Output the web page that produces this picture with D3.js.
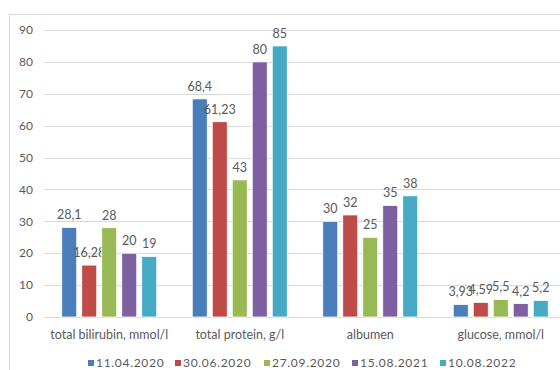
<!DOCTYPE html>
<html>
<head>
<meta charset="utf-8">
<script src="https://cdn.jsdelivr.net/npm/d3@7"></script>
<style>
  html, body { margin: 0; padding: 0; background: #fff; }
  svg { display: block; }
  text { font-family: Lato, "Open Sans", sans-serif; fill: #595959; }
</style>
</head>
<body>
<svg id="chart" width="560" height="370"></svg>
<script>
const categories = ["total bilirubin, mmol/l", "total protein, g/l", "albumen", "glucose, mmol/l"];
const seriesNames = ["11.04.2020", "30.06.2020", "27.09.2020", "15.08.2021", "10.08.2022"];
const seriesColors = ["#4a7ebb", "#be4b48", "#98b954", "#7d60a0", "#46aac5"];
// values per series, in category order
const s1 = [28.1, 68.4, 30, 3.93];
const s2 = [16.28, 61.23, 32, 4.59];
const s3 = [28, 43, 25, 5.5];
const s4 = [20, 80, 35, 4.2];
const s5 = [19, 85, 38, 5.2];
const seriesValues = [s1, s2, s3, s4, s5];
const yTicks = [0, 10, 20, 30, 40, 50, 60, 70, 80, 90];

const svg = d3.select("#chart");
const fmt = v => String(v).replace(".", ",");

// outer chart frame
svg.append("rect").attr("x", 9.5).attr("y", 14.5).attr("width", 600).attr("height", 400)
  .attr("fill", "none").attr("stroke", "#d9d9d9");

const plot = { left: 44, right: 566, top: 30, bottom: 317 };
const y = d3.scaleLinear().domain([0, 90]).range([plot.bottom, plot.top]);
const x0 = d3.scaleBand().domain(categories).range([plot.left, plot.right]).paddingInner(0).paddingOuter(0);
const x1 = d3.scaleBand().domain(seriesNames).range([x0.bandwidth() / 2 - 50, x0.bandwidth() / 2 + 50]).paddingInner(0.25).paddingOuter(0.125);

// gridlines
svg.append("g").selectAll("line").data(yTicks).join("line")
  .attr("x1", plot.left).attr("x2", 560)
  .attr("y1", d => Math.round(y(d)) + 0.5).attr("y2", d => Math.round(y(d)) + 0.5)
  .attr("stroke", "#d9d9d9").attr("stroke-width", 1);

// y tick labels
svg.append("g").selectAll("text").data(yTicks).join("text")
  .attr("x", 33).attr("y", d => y(d)).attr("dy", "0.35em")
  .attr("text-anchor", "end").style("font-size", "12px").text(d => d);

// bars
const groups = svg.append("g").selectAll("g").data(categories).join("g")
  .attr("transform", d => `translate(${x0(d)},0)`);

seriesNames.forEach((name, si) => {
  groups.append("rect")
    .attr("x", (d, ci) => x1(name))
    .attr("width", x1.bandwidth())
    .attr("y", (d, ci) => y(seriesValues[si][ci]))
    .attr("height", (d, ci) => plot.bottom - y(seriesValues[si][ci]))
    .attr("fill", seriesColors[si])
    .attr("stroke", "#fff").attr("stroke-width", 0.8);
  groups.append("text")
    .attr("x", (d, ci) => x1(name) + x1.bandwidth() / 2)
    .attr("y", (d, ci) => y(seriesValues[si][ci]) - 8)
    .attr("text-anchor", "middle").style("font-size", "12.5px")
    .text((d, ci) => fmt(seriesValues[si][ci]));
});

// category labels
svg.append("g").selectAll("text").data(categories).join("text")
  .attr("x", d => x0(d) + x0.bandwidth() / 2).attr("y", 339)
  .attr("text-anchor", "middle").style("font-size", "12.5px").text(d => d);

// legend
const legendX = [88, 175, 264, 352, 440];
const legend = svg.append("g").selectAll("g").data(seriesNames).join("g")
  .attr("transform", (d, i) => `translate(${legendX[i]},360)`);
legend.append("rect").attr("width", 6).attr("height", 6).attr("fill", (d, i) => seriesColors[i]);
legend.append("text").attr("x", 8).attr("y", 3).attr("dy", "0.35em")
  .style("font-size", "12px").style("letter-spacing", "0.7px").text(d => d);
</script>
</body>
</html>
